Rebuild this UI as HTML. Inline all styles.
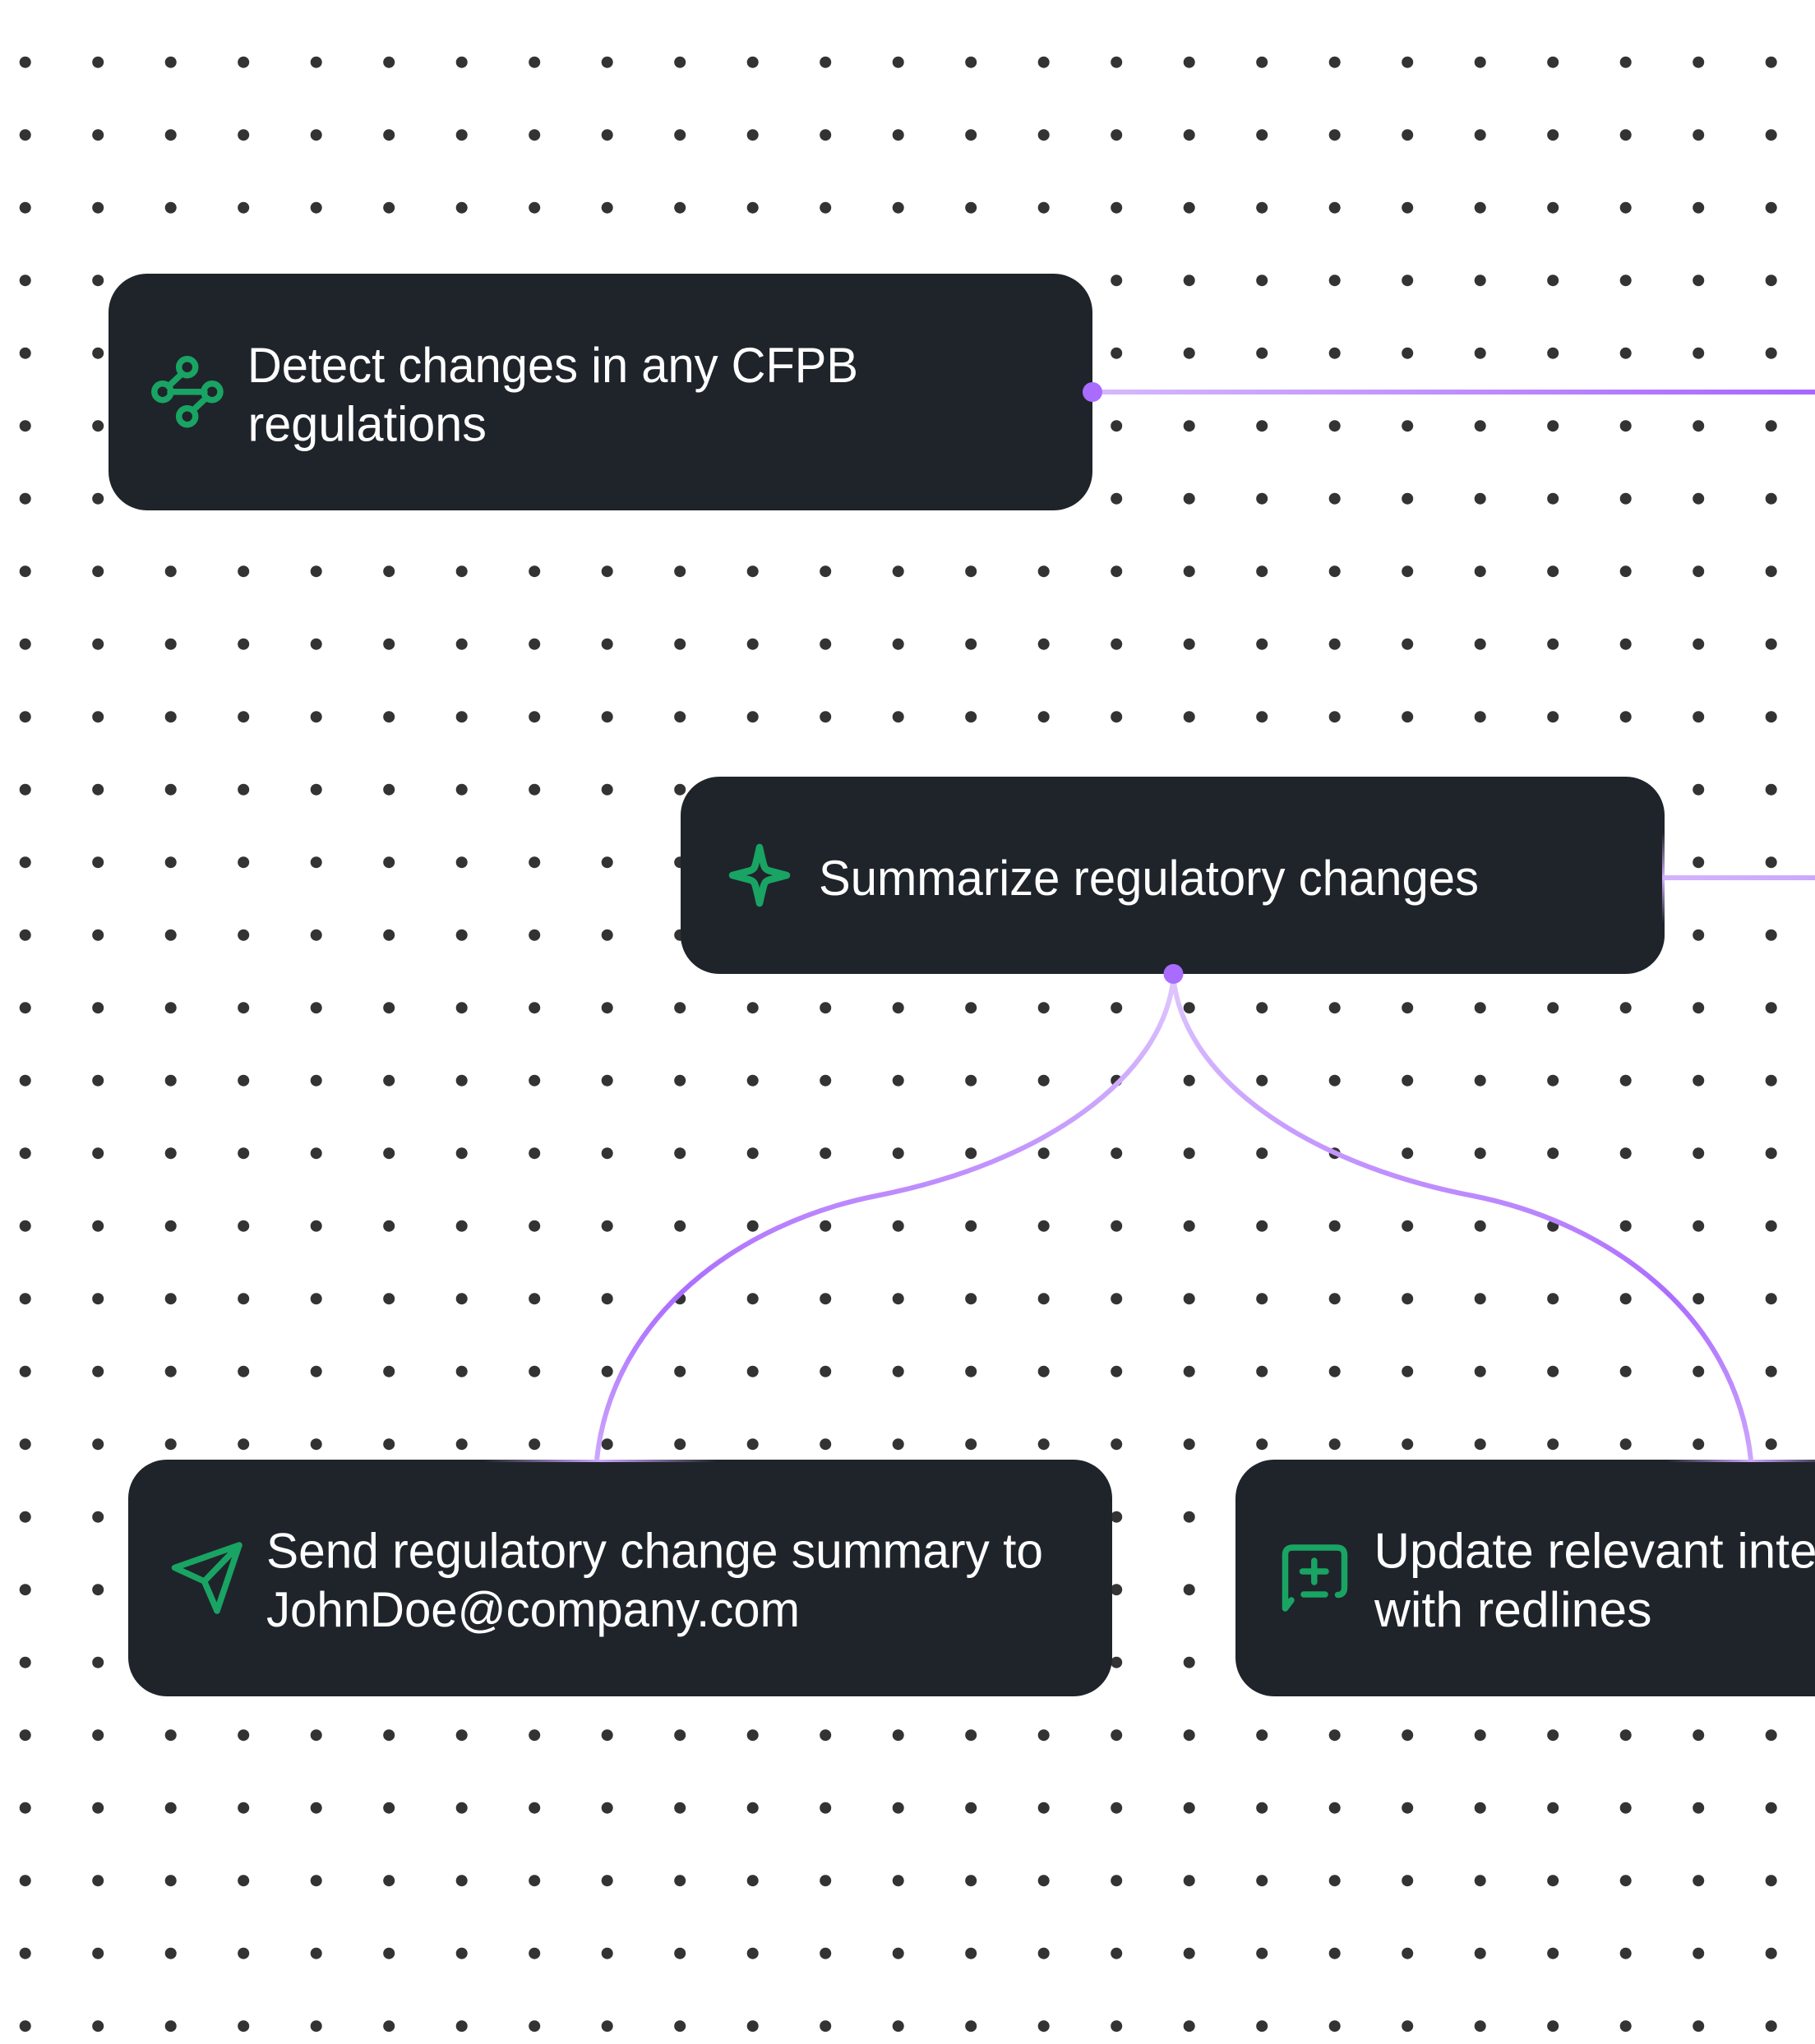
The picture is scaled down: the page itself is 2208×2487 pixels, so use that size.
<!DOCTYPE html>
<html>
<head>
<meta charset="utf-8">
<title>Regulatory change workflow</title>
<style>
html,body{margin:0;padding:0;background:#fff;width:2208px;height:2487px;overflow:hidden}
svg{display:block}
text{font-family:"Liberation Sans",sans-serif;font-size:60px;fill:#fff}
.ic{fill:none;stroke:#19a463;stroke-width:7.5;stroke-linecap:round;stroke-linejoin:round}
</style>
</head>
<body>
<svg xmlns="http://www.w3.org/2000/svg" width="2208" height="2487" viewBox="0 0 2208 2487">
<defs>
<g id="row" fill="#333">
<circle cx="30.7" cy="75.7" r="7"/><circle cx="119.2" cy="75.7" r="7"/><circle cx="207.7" cy="75.7" r="7"/><circle cx="296.2" cy="75.7" r="7"/><circle cx="384.7" cy="75.7" r="7"/><circle cx="473.2" cy="75.7" r="7"/><circle cx="561.7" cy="75.7" r="7"/><circle cx="650.2" cy="75.7" r="7"/><circle cx="738.7" cy="75.7" r="7"/><circle cx="827.2" cy="75.7" r="7"/><circle cx="915.7" cy="75.7" r="7"/><circle cx="1004.2" cy="75.7" r="7"/><circle cx="1092.7" cy="75.7" r="7"/><circle cx="1181.2" cy="75.7" r="7"/><circle cx="1269.7" cy="75.7" r="7"/><circle cx="1358.2" cy="75.7" r="7"/><circle cx="1446.7" cy="75.7" r="7"/><circle cx="1535.2" cy="75.7" r="7"/><circle cx="1623.7" cy="75.7" r="7"/><circle cx="1712.2" cy="75.7" r="7"/><circle cx="1800.7" cy="75.7" r="7"/><circle cx="1889.2" cy="75.7" r="7"/><circle cx="1977.7" cy="75.7" r="7"/><circle cx="2066.2" cy="75.7" r="7"/><circle cx="2154.7" cy="75.7" r="7"/>
</g>
<linearGradient id="h1" gradientUnits="userSpaceOnUse" x1="1329" y1="0" x2="2208" y2="0">
<stop offset="0" stop-color="#d6b8fd"/><stop offset="1" stop-color="#a866ff"/>
</linearGradient>
<linearGradient id="h2" gradientUnits="userSpaceOnUse" x1="2024" y1="0" x2="2208" y2="0">
<stop offset="0" stop-color="#d3b3fd"/><stop offset="1" stop-color="#cca8fc"/>
</linearGradient>
<linearGradient id="cv" gradientUnits="userSpaceOnUse" x1="0" y1="1185" x2="0" y2="1776">
<stop offset="0" stop-color="#e0c9fe"/><stop offset="0.45" stop-color="#bd8bfd"/><stop offset="0.66" stop-color="#ab6cff"/><stop offset="1" stop-color="#cda6fc"/>
</linearGradient>
<linearGradient id="glowH">
<stop offset="0" stop-color="#cda6fc" stop-opacity="0"/><stop offset="0.5" stop-color="#cda6fc"/><stop offset="1" stop-color="#cda6fc" stop-opacity="0"/>
</linearGradient>
<linearGradient id="glowV" x1="0" y1="0" x2="0" y2="1">
<stop offset="0" stop-color="#d3b3fd" stop-opacity="0"/><stop offset="0.5" stop-color="#d3b3fd"/><stop offset="1" stop-color="#d3b3fd" stop-opacity="0"/>
</linearGradient>
</defs>

<rect width="2208" height="2487" fill="#fff"/>

<g>
<use href="#row" y="0"/><use href="#row" y="88.5"/><use href="#row" y="177"/><use href="#row" y="265.5"/><use href="#row" y="354"/><use href="#row" y="442.5"/><use href="#row" y="531"/><use href="#row" y="619.5"/><use href="#row" y="708"/><use href="#row" y="796.5"/><use href="#row" y="885"/><use href="#row" y="973.5"/><use href="#row" y="1062"/><use href="#row" y="1150.5"/><use href="#row" y="1239"/><use href="#row" y="1327.5"/><use href="#row" y="1416"/><use href="#row" y="1504.5"/><use href="#row" y="1593"/><use href="#row" y="1681.5"/><use href="#row" y="1770"/><use href="#row" y="1858.5"/><use href="#row" y="1947"/><use href="#row" y="2035.5"/><use href="#row" y="2124"/><use href="#row" y="2212.5"/><use href="#row" y="2301"/><use href="#row" y="2389.5"/>
</g>

<!-- connectors -->
<rect x="1329" y="474" width="879" height="6" fill="url(#h1)"/>
<rect x="2024" y="1065" width="184" height="6" fill="url(#h2)"/>
<path d="M1427.5 1190 C1415 1310 1270 1415 1066 1455 C900 1488 745 1600 726 1776" fill="none" stroke="url(#cv)" stroke-width="6"/>
<path d="M1427.5 1190 C1440 1310 1585 1415 1792 1455 C1958 1488 2111 1600 2130 1776" fill="none" stroke="url(#cv)" stroke-width="6"/>

<!-- boxes -->
<rect x="132" y="333" width="1197" height="288" rx="47" fill="#1f242b"/>
<rect x="828" y="945" width="1197" height="240" rx="47" fill="#1f242b"/>
<rect x="156" y="1776" width="1197" height="288" rx="47" fill="#1f242b"/>
<rect x="1503" y="1776" width="1197" height="288" rx="47" fill="#1f242b"/>

<!-- edge highlights -->
<rect x="588" y="1776" width="284" height="3" fill="url(#glowH)"/>
<rect x="2028" y="1776" width="204" height="3" fill="url(#glowH)"/>
<rect x="2022" y="1013" width="3" height="110" fill="url(#glowV)"/>

<!-- anchor dots -->
<circle cx="1329" cy="477" r="12" fill="#aa6bff"/>
<circle cx="1427.5" cy="1185" r="12" fill="#aa6bff"/>

<!-- icon: nodes -->
<g class="ic">
<path d="M207 476.7H249M221 455L205 470M251 484L235 499"/>
<circle cx="227.7" cy="446.7" r="10"/>
<circle cx="197.8" cy="476.7" r="10"/>
<circle cx="258" cy="476.7" r="10"/>
<circle cx="227.7" cy="506.7" r="10"/>
</g>

<!-- icon: sparkle -->
<path class="ic" style="stroke-width:8.5" d="M924 1031 C926 1040 928 1049 929.5 1053.5 C930.5 1057 932.5 1058.5 936 1059.5 L957 1065 L936 1070.5 C932.5 1071.5 930.5 1073 929.5 1076.5 C928 1081 926 1090 924 1099 C922 1090 920 1081 918.5 1076.5 C917.5 1073 915.5 1071.5 912 1070.5 L891 1065 L912 1059.5 C915.5 1058.5 917.5 1057 918.5 1053.5 C920 1049 922 1040 924 1031 Z"/>

<!-- icon: send -->
<path class="ic" d="M291 1880 L212.5 1907.5 L248.5 1924 L264 1960 Z M291 1880 L248.5 1924"/>

<!-- icon: chat plus -->
<g class="ic">
<path d="M1571 1947 L1563.5 1957 V1892 Q1563.5 1883 1572.5 1883 H1626.5 Q1635.5 1883 1635.5 1892 V1931 Q1635.5 1940.5 1627.5 1940.5"/>
<path d="M1598.8 1899 V1925 M1584.5 1912 H1613 M1586 1940 H1612"/>
</g>

<!-- labels -->
<text x="301" y="465" textLength="743" lengthAdjust="spacingAndGlyphs">Detect changes in any CFPB</text>
<text x="301.5" y="536.5" textLength="290.5" lengthAdjust="spacingAndGlyphs">regulations</text>
<text x="996" y="1089" textLength="803" lengthAdjust="spacingAndGlyphs">Summarize regulatory changes</text>
<text x="324" y="1907.5" textLength="945" lengthAdjust="spacingAndGlyphs">Send regulatory change summary to</text>
<text x="324" y="1979" textLength="649" lengthAdjust="spacingAndGlyphs">JohnDoe@company.com</text>
<text x="1671.5" y="1907.5" textLength="539" lengthAdjust="spacingAndGlyphs">Update relevant inte</text>
<text x="1672" y="1979" textLength="337.5" lengthAdjust="spacingAndGlyphs">with redlines</text>
</svg>
</body>
</html>
